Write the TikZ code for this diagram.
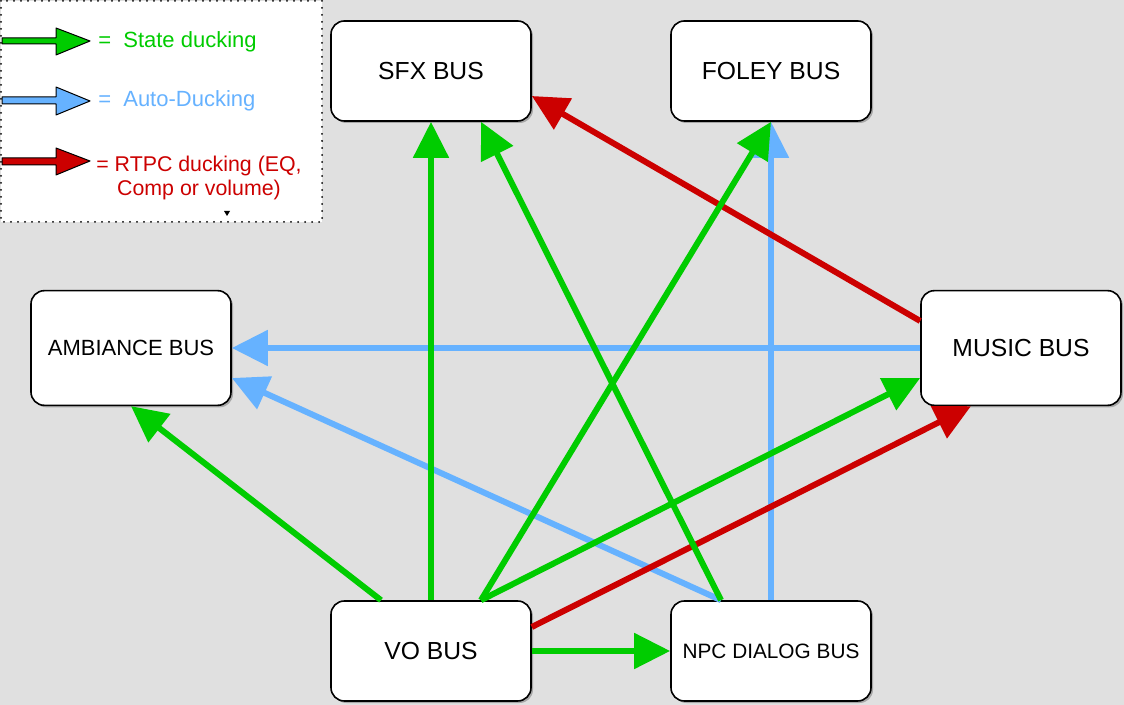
\documentclass[tikz,border=0pt]{standalone}
\usepackage{fontspec}
\setmainfont{Liberation Sans}
\usetikzlibrary{arrows.meta,calc,shadows}
\definecolor{duckgreen}{HTML}{00CC00}
\definecolor{duckblue}{HTML}{66B2FF}
\definecolor{duckred}{HTML}{CC0000}
\definecolor{canvasgray}{HTML}{E0E0E0}

\begin{document}
\begin{tikzpicture}[x=0.75pt,y=-0.75pt,
  bus/.style={rectangle,draw,fill=white,line width=1.2pt,rounded corners=10pt,minimum width=150pt,minimum height=75pt,inner sep=0pt,font=\fontsize{18.5}{21}\selectfont,drop shadow={shadow xshift=1.5pt,shadow yshift=-1.5pt,fill=black,opacity=0.25}},
  duck/.style={line width=4.5pt},
  state/.style={duck,draw=duckgreen,-{Triangle[length=27pt,width=26pt,fill=duckgreen]}},
  auto/.style={duck,draw=duckblue,-{Triangle[length=27pt,width=26pt,fill=duckblue]}},
  rtpc/.style={duck,draw=duckred,-{Triangle[length=27pt,width=26pt,fill=duckred]}},
  key/.style={draw=black,line width=0.75pt,line join=round}]
\fill[canvasgray] (0,0) rectangle (1124,705);
\useasboundingbox (0,0) rectangle (1124,705);
\filldraw[fill=white,draw=black,line width=1.5pt,dash pattern=on 0pt off 5.25pt,line cap=round] (1,1) rectangle (322,222);
\filldraw[key,fill=duckgreen] (2,38) -- (56,38) -- (56,28) -- (90,41) -- (56,55) -- (56,44) -- (2,44) -- cycle;
\filldraw[key,fill=duckblue] (2,97) -- (56,97) -- (56,87) -- (90,101) -- (56,115) -- (56,104) -- (2,104) -- cycle;
\filldraw[key,fill=duckred] (2,158) -- (56,158) -- (56,148) -- (90,161) -- (56,175) -- (56,165) -- (2,165) -- cycle;
\node[anchor=west,inner sep=0pt,text=duckgreen,font=\fontsize{16.5}{19}\selectfont] (kstate) at (98,42) {=~ State ducking};
\node[anchor=west,inner sep=0pt,text=duckblue,font=\fontsize{16.5}{19}\selectfont] (kauto) at (98,101) {=~ Auto-Ducking};
\node[inner sep=0pt,align=center,text=duckred,font=\fontsize{16}{17.5}\selectfont] (krtpc) at (199,178) {= RTPC ducking (EQ,\\Comp or volume)};
\fill (224,211) -- (230,211) -- (227,216) -- cycle;
\node[bus] (sfx) at (431,71) {SFX BUS};
\node[bus] (foley) at (771,71) {FOLEY BUS};
\node[bus,minimum height=86pt,font=\fontsize{16.5}{19}\selectfont] (amb) at (131,348) {AMBIANCE BUS};
\node[bus,minimum height=86pt] (music) at (1021,348) {MUSIC BUS};
\node[bus] (vo) at (431,651) {VO BUS};
\node[bus,font=\fontsize{15.6}{18}\selectfont] (npc) at (771,651) {NPC DIALOG BUS};
\draw[auto] (music.west) -- (amb.east);
\draw[auto] ($(npc.north)+(-50,0)$) -- ($(amb.east)+(0,30)$);
\draw[auto] (npc.north) -- (foley.south);
\draw[rtpc] ($(music.west)+(0,-27)$) -- ($(sfx.east)+(0,25)$);
\draw[rtpc] ($(vo.east)+(0,-24)$) -- ($(music.south)+(-50,0)$);
\draw[state] ($(vo.north)+(-50,0)$) -- (amb.south);
\draw[state] (vo.north) -- (sfx.south);
\draw[state] ($(vo.north)+(50,0)$) -- (foley.south);
\draw[state] ($(vo.north)+(50,0)$) -- ($(music.west)+(0,30)$);
\draw[state] (vo.east) -- (npc.west);
\draw[state] ($(npc.north)+(-50,0)$) -- ($(sfx.south)+(50,0)$);
\end{tikzpicture}
\end{document}
